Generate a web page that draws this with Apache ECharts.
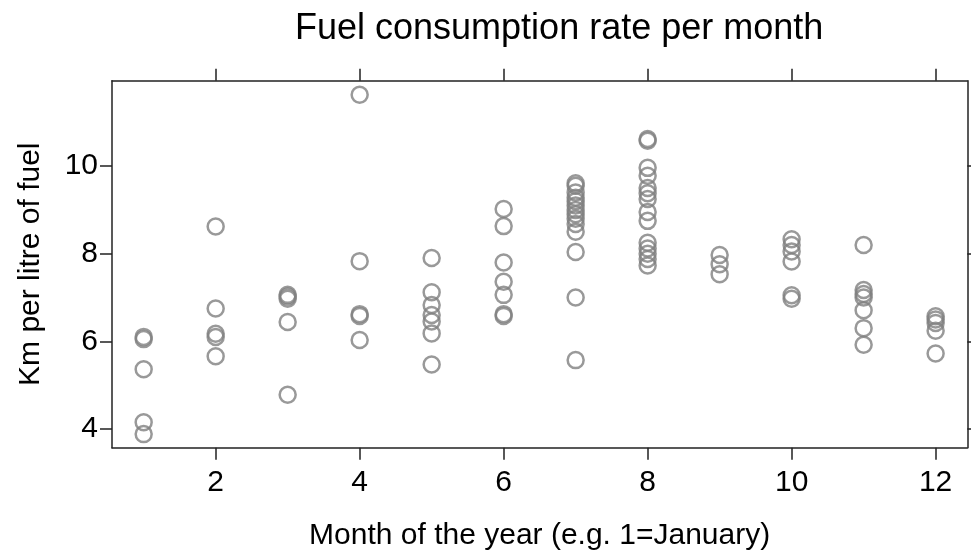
<!DOCTYPE html>
<html>
<head>
<meta charset="utf-8">
<script src="https://cdn.jsdelivr.net/npm/echarts@6/dist/echarts.min.js"></script>
<style>html,body{margin:0;padding:0;background:#fff;}#c{width:971px;height:556px;}</style>
</head>
<body>
<div id="c"></div>
<script>
// Data: km per litre of fuel, by month of the year
const months = [1, 2, 3, 4, 5, 6, 7, 8, 9, 10, 11, 12];
const jan = [6.05, 6.10, 5.36, 4.15, 3.88];
const feb = [8.62, 6.75, 6.17, 6.10, 5.66];
const mar = [7.06, 7.02, 6.97, 6.44, 4.78];
const apr = [11.63, 7.83, 6.62, 6.58, 6.03];
const may = [7.90, 7.12, 6.83, 6.60, 6.45, 6.18, 5.47];
const jun = [9.02, 8.63, 7.80, 7.36, 7.06, 6.62, 6.58];
const jul = [9.61, 9.55, 9.40, 9.28, 9.20, 9.10, 9.00, 8.90, 8.80, 8.68, 8.50, 8.04, 7.00, 5.57];
const aug = [10.62, 10.58, 9.96, 9.78, 9.50, 9.38, 9.25, 8.95, 8.75, 8.25, 8.12, 8.00, 7.88, 7.73];
const sep = [7.97, 7.76, 7.53];
const oct = [8.33, 8.20, 8.05, 7.82, 7.05, 6.97];
const nov = [8.20, 7.17, 7.08, 7.00, 6.71, 6.30, 5.92];
const dec = [6.57, 6.50, 6.42, 6.24, 5.72];
const xTicks = [2, 4, 6, 8, 10, 12];
const yTicks = [4, 6, 8, 10];

const byMonth = [jan, feb, mar, apr, may, jun, jul, aug, sep, oct, nov, dec];
const points = [];
months.forEach((m, i) => byMonth[i].forEach(v => points.push([m, v])));

const FONT = 'Liberation Sans, Arial, sans-serif';
const AX = '#222';
const lineStyle = { color: AX, width: 1.5 };

const chart = echarts.init(document.getElementById('c'));
chart.setOption({
  animation: false,
  backgroundColor: '#fff',
  title: {
    text: 'Fuel consumption rate per month',
    left: 290, top: 6,
    textStyle: { fontFamily: FONT, fontSize: 36, fontWeight: 'normal', color: '#000' }
  },
  grid: { left: 112, right: 3.7, top: 80.7, bottom: 108.3, containLabel: false },
  xAxis: [{
    type: 'value', min: 0.56, max: 12.44, position: 'bottom',
    name: 'Month of the year (e.g. 1=January)', nameLocation: 'middle', nameGap: 73,
    nameTextStyle: { fontFamily: FONT, fontSize: 30, color: '#000' },
    axisLine: { show: true, lineStyle },
    axisTick: { show: true, inside: false, length: 12, lineStyle, customValues: xTicks },
    axisLabel: { show: true, margin: 20, fontFamily: FONT, fontSize: 30, color: '#000', customValues: xTicks },
    splitLine: { show: false }
  }, {
    type: 'value', min: 0.56, max: 12.44, position: 'top',
    axisLine: { show: true, lineStyle },
    axisTick: { show: true, inside: false, length: 12, lineStyle, customValues: xTicks },
    axisLabel: { show: false },
    splitLine: { show: false }
  }],
  yAxis: [{
    type: 'value', min: 3.57, max: 11.95, position: 'left',
    name: 'Km per litre of fuel', nameLocation: 'middle', nameGap: 66, nameRotate: 90,
    nameTextStyle: { fontFamily: FONT, fontSize: 30, color: '#000' },
    axisLine: { show: true, lineStyle },
    axisTick: { show: true, inside: false, length: 12, lineStyle, customValues: yTicks },
    axisLabel: { show: true, margin: 14, fontFamily: FONT, fontSize: 30, color: '#000', customValues: yTicks },
    splitLine: { show: false }
  }, {
    type: 'value', min: 3.57, max: 11.95, position: 'right',
    axisLine: { show: true, lineStyle },
    axisTick: { show: true, inside: false, length: 12, lineStyle, customValues: yTicks },
    axisLabel: { show: false },
    splitLine: { show: false }
  }],
  series: [{
    type: 'scatter',
    xAxisIndex: 0, yAxisIndex: 0,
    data: points,
    symbol: 'circle',
    symbolSize: 16,
    itemStyle: { color: 'rgba(0,0,0,0)', borderColor: '#808080', borderWidth: 2.5 },
    emphasis: { disabled: true }
  }]
});
</script>
</body>
</html>
